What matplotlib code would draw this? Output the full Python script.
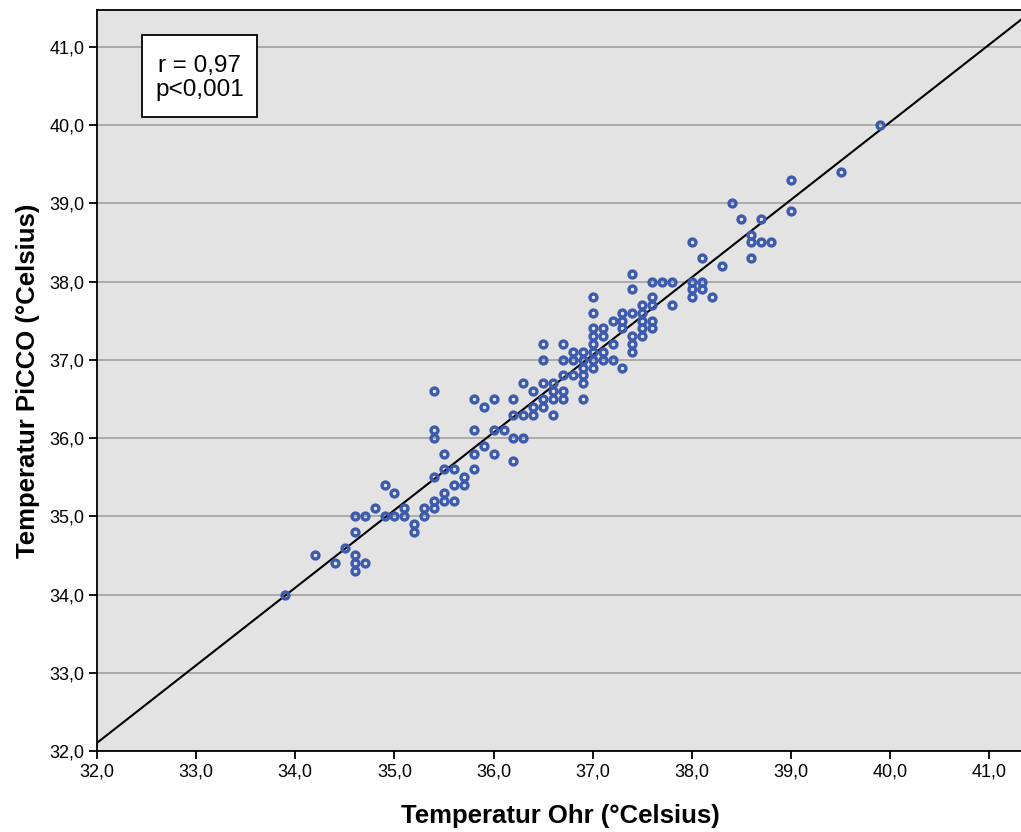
import numpy as np
import matplotlib
matplotlib.use("Agg")
import matplotlib.pyplot as plt
from matplotlib.patches import Rectangle
from matplotlib.ticker import FuncFormatter, MultipleLocator

plt.rcParams['font.family'] = ['Liberation Sans', 'DejaVu Sans']

# Data: ear temperature (x) vs PiCCO temperature (y), grouped by x value
ohr_values = [33.9, 34.2, 34.4, 34.5, 34.6, 34.7, 34.8, 34.9, 35.0, 35.1,
              35.2, 35.3, 35.4, 35.5, 35.6, 35.7, 35.8, 35.9, 36.0, 36.1,
              36.2, 36.3, 36.4, 36.5, 36.6, 36.7, 36.8, 36.9, 37.0, 37.1,
              37.2, 37.3, 37.4, 37.5, 37.6, 37.7, 37.8, 38.0, 38.1, 38.2,
              38.3, 38.4, 38.5, 38.6, 38.7, 38.8, 39.0, 39.5, 39.9]
picco_groups = [
    [34.0],
    [34.5],
    [34.4],
    [34.6],
    [35.0, 34.8, 34.5, 34.4, 34.3],
    [35.0, 34.4],
    [35.1],
    [35.4, 35.0],
    [35.3, 35.0],
    [35.1, 35.0],
    [34.9, 34.8],
    [35.1, 35.0],
    [36.6, 36.1, 36.0, 35.5, 35.2, 35.1],
    [35.8, 35.6, 35.3, 35.2],
    [35.6, 35.4, 35.2],
    [35.5, 35.4],
    [36.5, 36.1, 35.8, 35.6],
    [36.4, 35.9],
    [36.5, 36.1, 35.8],
    [36.1],
    [36.5, 36.3, 36.0, 35.7],
    [36.7, 36.3, 36.0],
    [36.6, 36.4, 36.3],
    [37.2, 37.0, 36.7, 36.5, 36.4],
    [36.7, 36.6, 36.5, 36.3],
    [37.2, 37.0, 36.8, 36.6, 36.5],
    [37.1, 37.0, 36.8],
    [37.1, 37.0, 36.9, 36.8, 36.7, 36.5],
    [37.8, 37.6, 37.4, 37.3, 37.2, 37.1, 37.0, 36.9],
    [37.4, 37.3, 37.1, 37.0],
    [37.5, 37.2, 37.0],
    [37.6, 37.5, 37.4, 36.9],
    [38.1, 37.9, 37.6, 37.3, 37.2, 37.1],
    [37.7, 37.6, 37.5, 37.4, 37.3],
    [38.0, 37.8, 37.7, 37.5, 37.4],
    [38.0],
    [38.0, 37.7],
    [38.5, 38.0, 37.9, 37.8],
    [38.3, 38.0, 37.9],
    [37.8],
    [38.2],
    [39.0],
    [38.8],
    [38.6, 38.5, 38.3],
    [38.8, 38.5],
    [38.5],
    [39.3, 38.9],
    [39.4],
    [40.0],
]

x = np.array([xv for xv, ys in zip(ohr_values, picco_groups) for _ in ys])
y = np.array([yv for ys in picco_groups for yv in ys])

x_label = "Temperatur Ohr (°Celsius)"
y_label = "Temperatur PiCCO (°Celsius)"
stats_lines = ["r = 0,97", "p<0,001"]

W, H = 1021, 832
fig = plt.figure(figsize=(W / 100, H / 100), dpi=100)
ax = fig.add_axes([97 / W, 1 - 751 / H, 1 - 97 / W + 0.002, (751 - 10) / H])
ax.set_facecolor('#E3E3E3')

xmin, xmax = 32.0, 41.34
ymin, ymax = 32.0, 41.47
ax.set_xlim(xmin, xmax)
ax.set_ylim(ymin, ymax)

ax.yaxis.set_major_locator(MultipleLocator(1.0))
ax.xaxis.set_major_locator(MultipleLocator(1.0))
fmt = FuncFormatter(lambda v, p: f"{v:.1f}".replace('.', ','))
ax.xaxis.set_major_formatter(fmt)
ax.yaxis.set_major_formatter(fmt)
ax.grid(axis='y', color='#A6A6A6', linewidth=1.3)
ax.set_axisbelow(True)

# regression line
b, a = np.polyfit(x, y, 1)
xs = np.array([xmin, xmax])
ax.plot(xs, a + b * xs, color='black', linewidth=1.5, zorder=3)

ax.plot(x, y, linestyle='none', marker='o', markersize=5.0, markerfacecolor='none',
        markeredgecolor='#3D5BAE', markeredgewidth=2.4, zorder=4)

for s in ['left', 'top', 'bottom']:
    ax.spines[s].set_linewidth(1.3)
    ax.spines[s].set_color('black')
ax.spines['right'].set_visible(False)

ax.tick_params(axis='both', direction='out', length=6, width=1.3, labelsize=13, color='black', pad=3)

ax.set_xlabel(x_label, fontsize=18.5, fontweight='bold', labelpad=17)
ax.set_ylabel(y_label, fontsize=18.5, fontweight='bold', labelpad=7)

# statistics box
fig.add_artist(Rectangle((142 / W, 1 - 117 / H), (257 - 142) / W, (117 - 35) / H,
                         transform=fig.transFigure, facecolor='white', edgecolor='black',
                         linewidth=1.3, zorder=5))
fig.text(199.5 / W, 1 - 66 / H, stats_lines[0], ha='center', va='center', fontsize=17.5, zorder=6)
fig.text(199.5 / W, 1 - 90 / H, stats_lines[1], ha='center', va='center', fontsize=17.5, zorder=6)

fig.savefig('out.png', dpi=100)
